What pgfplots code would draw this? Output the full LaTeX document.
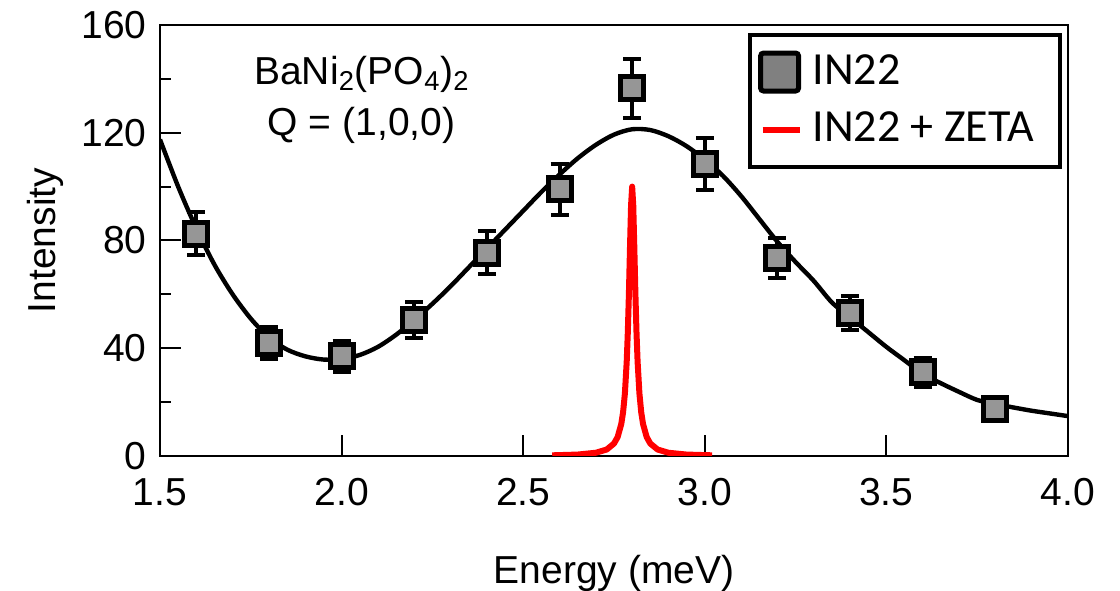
\documentclass[border=0pt]{standalone}
\usepackage{fontspec}
\setmainfont{Liberation Sans}
\newfontfamily\legfont{Carlito}
\usepackage{pgfplots}
\usepackage{pgfplotstable}
\pgfplotsset{compat=1.18}

\definecolor{mk}{RGB}{150,150,150}
\definecolor{mkleg}{RGB}{128,128,128}

% measured points (IN22)
\pgfplotstableread{
x   y     err
1.6 82.5  8
1.8 42    6
2.0 37    5.8
2.2 50.5  6.7
2.4 75.5  8
2.6 99    9.5
2.8 136.5 11
3.0 108.5 9.6
3.2 73.5  7.4
3.4 53    6.3
3.6 31    5.4
3.8 17.5  3
}\datatab

% fitted curve
\pgfplotstableread{
x    y
1.50 117.5
1.55 100
1.60 84.5
1.65 71
1.70 60
1.75 51
1.80 44
1.85 39.5
1.90 37
1.95 35.8
2.00 36
2.05 37.5
2.10 40.5
2.15 45
2.20 50.5
2.25 56.5
2.30 63
2.35 70
2.40 77
2.45 84
2.50 91
2.55 98
2.60 104.5
2.65 110.5
2.70 115.5
2.75 119.3
2.80 121.3
2.85 121
2.90 118.7
2.95 115
3.00 110
3.05 104
3.10 96.5
3.15 88
3.20 79.5
3.25 72
3.30 65
3.35 57
3.40 51.5
3.45 46
3.50 40.5
3.55 35.5
3.60 30.5
3.65 27
3.70 23.8
3.75 20.8
3.80 19.3
3.85 18
3.90 16.8
3.95 15.8
4.00 14.8
}\fittab

% resolution peak (IN22 + ZETA)
\pgfplotstableread{
x     y
2.580 0.25
2.650 0.53
2.700 1.20
2.730 2.41
2.750 4.62
2.760 7.03
2.770 11.85
2.775 16.2
2.780 23.2
2.785 35.0
2.788 45.7
2.791 59.9
2.794 77.1
2.797 93.1
2.800 100
2.803 93.1
2.806 77.1
2.809 59.9
2.812 45.7
2.815 35.0
2.820 23.2
2.825 16.2
2.830 11.85
2.840 7.03
2.850 4.62
2.870 2.41
2.900 1.20
2.950 0.53
3.020 0.25
}\zetatab

\begin{document}
\fontsize{19.5}{23}\selectfont
\begin{tikzpicture}
\begin{axis}[
    scale only axis,
    width=454pt, height=215.5pt,
    xmin=1.5, xmax=4.0, ymin=0, ymax=160,
    xtick={1.5,2.0,2.5,3.0,3.5,4.0},
    ytick={0,40,80,120,160},
    minor ytick={20,60,100,140},
    tick pos=left,
    tick align=inside,
    major tick length=10.5pt, minor tick length=5.5pt,
    axis line style={line width=1pt},
    every tick/.style={line width=1pt, black},
    /pgf/number format/assume math mode=true,
    x tick label style={/pgf/number format/.cd, fixed, fixed zerofill, precision=1, /tikz/.cd, yshift=-4.5pt},
    xlabel={Energy (meV)},
    ylabel={Intensity},
    xlabel style={at={(axis description cs:0.5,-0.297)}, anchor=base},
    ylabel style={at={(axis description cs:-0.115,0.5)}, anchor=base},
    legend style={at={(0.993,0.981)}, anchor=north east, draw=black, line width=2pt,
        font=\legfont\fontsize{23}{27}\selectfont, cells={anchor=west},
        inner xsep=4pt, inner ysep=7.5pt, row sep=7pt,
        /tikz/every odd column/.append style={column sep=3pt}},
]
\addlegendimage{legend image code/.code={\draw[line width=2.5pt, fill=mkleg, rounded corners=1.5pt] (-1pt,-9.5pt) rectangle (18pt,9.5pt);}}
\addlegendentry{IN22}
\addlegendimage{legend image code/.code={\draw[line width=3pt, red] (0pt,0pt) -- (18.5pt,0pt);}}
\addlegendentry{IN22 + ZETA\kern7pt}

\addplot[forget plot, black, line width=2.2pt, smooth] table[x=x, y=y] {\fittab};
\addplot[forget plot, red, line width=3pt, line join=round] table[x=x, y=y] {\zetatab};
\addplot[forget plot, only marks, mark=square*, mark size=5.75pt,
    mark options={fill=mk, draw=black, line width=2.5pt, rounded corners=1pt},
    error bars/.cd, y dir=both, y explicit,
    error bar style={line width=2pt, black},
    error mark options={rotate=90, mark size=4.5pt, line width=2pt, black}]
    table[x=x, y=y, y error=err] {\datatab};

\node[anchor=base] at (axis cs:2.056,138) {BaNi\textsubscript{2}(PO\textsubscript{4})\textsubscript{2}};
\node[anchor=base] at (axis cs:2.055,118.8) {Q = (1,0,0)};

\coordinate (BL) at (rel axis cs:0,0);
\coordinate (TR) at (rel axis cs:1,1);
\end{axis}
\pgfresetboundingbox
\path[use as bounding box] ([shift={(-80pt,-67.5pt)}]BL) rectangle ([shift={(26pt,12.5pt)}]TR);
\end{tikzpicture}
\end{document}
